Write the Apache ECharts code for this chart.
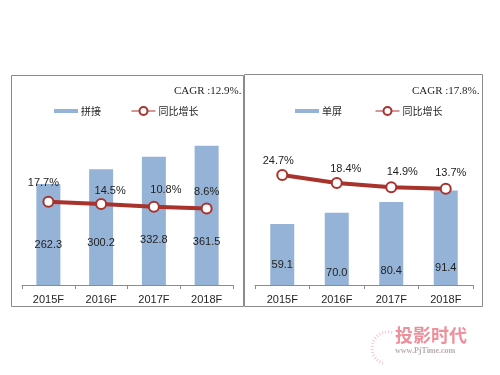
<!DOCTYPE html>
<html><head><meta charset="utf-8">
<script src="https://cdn.jsdelivr.net/npm/echarts@6/dist/echarts.min.js"></script>
<style>html,body{margin:0;padding:0;background:#fff}#c{width:500px;height:375px}</style>
</head><body><div id="c"></div>
<script>
// ---- data ----
const categories = ['2015F', '2016F', '2017F', '2018F'];
const spliceValues = [262.3, 300.2, 332.8, 361.5];
const spliceGrowth = [17.7, 14.5, 10.8, 8.6];
const singleValues = [59.1, 70.0, 80.4, 91.4];
const singleGrowth = [24.7, 18.4, 14.9, 13.7];
const leftBarName = '拼接';
const rightBarName = '单屏';
const growthName = '同比增长';
const leftCagr = 'CAGR :12.9%.';
const rightCagr = 'CAGR :17.8%.';

// ---- styles ----
const BAR = '#95B3D7', LINE = '#A8322C', TXT = '#1e1e1e';
const leftBarLabelDist = [35, 37, 40, 38];
const rightBarLabelDist = [15, 7, 9, 12];
const leftLineLabelOff = [[-5, -2], [9, 3], [12, 0], [0, 0]];
const rightLineLabelOff = [[-4, 2], [9, 3], [11, 1], [5, 1]];
const FONT = '"Liberation Sans", Arial, sans-serif';

function barData(vals, dists) {
  return vals.map((v, i) => ({ value: v, label: { distance: dists[i] } }));
}
function lineData(vals, offs) {
  return vals.map((v, i) => ({ value: v, label: { offset: offs[i] } }));
}
function xAxis(gi) {
  return {
    type: 'category', gridIndex: gi, data: categories,
    axisLine: { lineStyle: { color: '#8c8c8c', width: 1 } },
    axisTick: { show: true, inside: false, length: 4, lineStyle: { color: '#8c8c8c' } },
    axisLabel: { color: TXT, fontSize: 11, fontFamily: FONT, margin: 9 }
  };
}
function yAxis(gi, min, max) {
  return { type: 'value', gridIndex: gi, min: min, max: max, show: false, splitLine: { show: false } };
}
function barSeries(name, xi, yi, vals, dists) {
  return {
    name: name, type: 'bar', xAxisIndex: xi, yAxisIndex: yi, barWidth: 24,
    itemStyle: { color: BAR },
    label: { show: true, position: 'insideBottom', color: TXT, fontSize: 11, fontFamily: FONT,
      formatter: p => p.value.toFixed(1) },
    data: barData(vals, dists), z: 2
  };
}
function lineSeries(name, xi, yi, vals, offs) {
  return {
    name: name, type: 'line', xAxisIndex: xi, yAxisIndex: yi,
    symbol: 'circle', symbolSize: 10,
    lineStyle: { color: LINE, width: 4 },
    itemStyle: { color: '#fff', borderColor: LINE, borderWidth: 2 },
    label: { show: true, position: 'top', distance: 5, color: TXT, fontSize: 11, fontFamily: FONT,
      formatter: p => p.value.toFixed(1) + '%' },
    data: lineData(vals, offs), z: 3
  };
}
function legend(left, gap, barName) {
  return {
    left: left, top: 106, padding: 0, itemWidth: 24, itemHeight: 10, itemGap: gap,
    textStyle: { color: TXT, fontSize: 10, fontFamily: '"Noto Sans CJK SC", sans-serif', padding: [0, 0, 0, -2] },
    data: [
      { name: barName, icon: 'path://M0,0h24v4h-24z' },
      { name: growthName, lineStyle: { width: 1 } }
    ]
  };
}
const cagrStyle = { fontFamily: '"Liberation Serif", serif', fontSize: 11, fontWeight: 'normal', color: TXT };

const option = {
  backgroundColor: '#fff',
  animation: false,
  title: [
    { text: leftCagr, left: 174, top: 86, textStyle: cagrStyle, padding: 0 },
    { text: rightCagr, left: 412, top: 86, textStyle: cagrStyle, padding: 0 }
  ],
  legend: [legend(54, 30, leftBarName), legend(295, 33, rightBarName)],
  grid: [
    { left: 22, right: 267, top: 100, bottom: 90 },
    { left: 255, right: 27, top: 100, bottom: 90 }
  ],
  xAxis: [xAxis(0), xAxis(1)],
  yAxis: [yAxis(0, 0, 480), yAxis(0, -97, 158), yAxis(1, 0, 179), yAxis(1, -63.6, 85)],
  series: [
    barSeries(leftBarName, 0, 0, spliceValues, leftBarLabelDist),
    lineSeries(growthName, 0, 1, spliceGrowth, leftLineLabelOff),
    barSeries(rightBarName, 1, 2, singleValues, rightBarLabelDist),
    lineSeries(growthName, 1, 3, singleGrowth, rightLineLabelOff)
  ],
  graphic: [
    { type: 'rect', shape: { x: 11.5, y: 75.5, width: 232, height: 231 }, style: { fill: 'none', stroke: '#8a8a8a', lineWidth: 1 }, z: 100 },
    { type: 'rect', shape: { x: 244.5, y: 74.5, width: 238, height: 232 }, style: { fill: 'none', stroke: '#8a8a8a', lineWidth: 1 }, z: 100 },
    { type: 'text', left: 395, top: 326, style: { text: '投影时代', fill: '#e86a7a', opacity: 0.75, font: 'bold 18px "Noto Sans CJK SC", sans-serif' } },
    { type: 'text', left: 395, top: 347, style: { text: 'www.PjTime.com', fill: '#9a8a8a', opacity: 0.7, font: 'bold 8px "Liberation Serif", serif' } },
    { type: 'arc', shape: { cx: 388, cy: 348, r: 16, startAngle: Math.PI * 0.6, endAngle: Math.PI * 1.6 }, style: { fill: 'none', stroke: '#f0a0aa', lineWidth: 3, lineDash: [1, 2], opacity: 0.6 } }
  ]
};
const chart = echarts.init(document.getElementById('c'), null, { renderer: 'canvas' });
chart.setOption(option);
</script></body></html>
